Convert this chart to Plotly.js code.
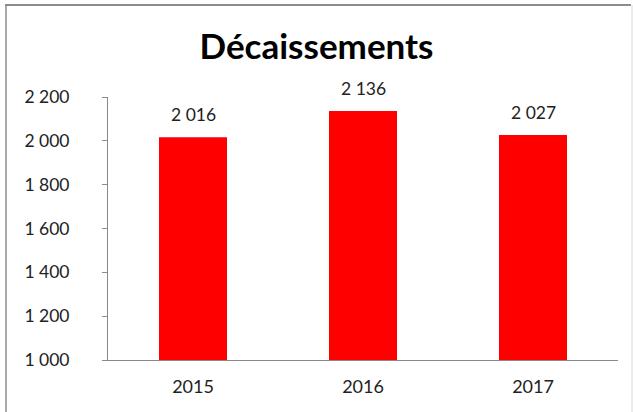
<!DOCTYPE html>
<html><head><meta charset="utf-8">
<script src="https://cdn.plot.ly/plotly-3.0.1.min.js"></script>
<style>html,body{margin:0;padding:0;background:#fff}#c{width:633px;height:412px}</style>
</head><body><div id="c"></div>
<script>
const years = ['2015', '2016', '2017'];
const decaissements = [2016, 2136, 2027];
const yTicks = [1000, 1200, 1400, 1600, 1800, 2000, 2200];

const FONT = 'Lato, sans-serif';
const trace = {
  type: 'bar', x: years, y: decaissements,
  marker: {color: '#ff0000'},
  width: 0.4,
  cliponaxis: false, hoverinfo: 'none'
};
const labels = years.map((yr, i) => ({
  x: i, y: decaissements[i], xref: 'x', yref: 'y',
  text: decaissements[i].toLocaleString('fr-FR').replace(/\s/g, ' '),
  showarrow: false, yanchor: 'bottom', yshift: 10,
  font: {family: FONT, size: 17.5, color: '#222'}
}));
const X = v => (v - 108) / 510, Y = v => 1 + (97 - v) / 263;
const layout = {
  width: 633, height: 412,
  margin: {l: 108, r: 15, t: 97, b: 52},
  separators: ', ',
  paper_bgcolor: '#fff', plot_bgcolor: '#fff',
  title: {text: '<b>Décaissements</b>', x: 0.5, xanchor: 'center', y: 1 - 47/412, yanchor: 'middle',
          font: {family: FONT, size: 35, color: '#000'}},
  xaxis: {type: 'category', range: [-0.5, 2.5], autorange: false, showline: true, linecolor: '#8a8a8a', linewidth: 1, ticks: '',
          tickfont: {family: FONT, size: 18, color: '#222'}, ticklabelstandoff: 10, fixedrange: true},
  yaxis: {range: [1000, 2200], tickvals: yTicks, tickformat: ',d', showgrid: false, zeroline: false,
          showline: true, linecolor: '#8a8a8a', linewidth: 1, ticks: 'outside', ticklen: 5, tickcolor: '#8a8a8a',
          tickfont: {family: FONT, size: 17.5, color: '#222'}, ticklabelstandoff: 29},
  showlegend: false,
  annotations: labels,
  shapes: [
    {type: 'line', xref: 'paper', yref: 'paper', x0: X(5), x1: X(631), y0: Y(5), y1: Y(5), line: {color: '#8c8c8c', width: 2}},
    {type: 'line', xref: 'paper', yref: 'paper', x0: X(6), x1: X(6), y0: Y(5), y1: Y(412), line: {color: '#8c8c8c', width: 1.5}},
    {type: 'line', xref: 'paper', yref: 'paper', x0: X(632), x1: X(632), y0: Y(5), y1: Y(412), line: {color: '#d8d8d8', width: 1}}
  ]
};
Plotly.newPlot('c', [trace], layout, {displayModeBar: false, staticPlot: true});
</script></body></html>
